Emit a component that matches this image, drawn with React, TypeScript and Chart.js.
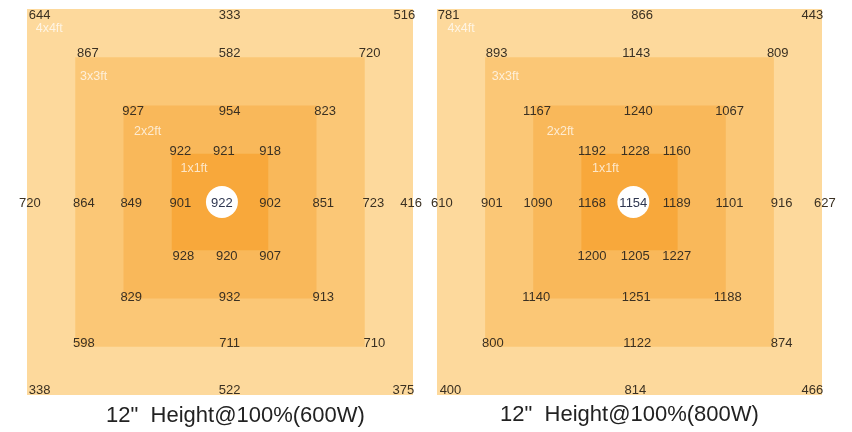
import React, { useEffect, useRef } from "react";
import { Chart, registerables } from "chart.js";

Chart.register(...registerables);

// ---- data ----
const zoneNames = ["4x4ft", "3x3ft", "2x2ft", "1x1ft"];
const zoneSizes = [4, 3, 2, 1]; // ft
const zoneColors = ["#FDD99C", "#FBC776", "#F9B85A", "#F8A83B"];

const title600 = "12\"  Height@100%(600W)";
const title800 = "12\"  Height@100%(800W)";

const values600 = [
  [644, 333, 516],
  [867, 582, 720],
  [927, 954, 823],
  [922, 921, 918],
  [720, 864, 849, 901, 922, 902, 851, 723, 416],
  [928, 920, 907],
  [829, 932, 913],
  [598, 711, 710],
  [338, 522, 375],
];

const values800 = [
  [781, 866, 443],
  [893, 1143, 809],
  [1167, 1240, 1067],
  [1192, 1228, 1160],
  [610, 901, 1090, 1168, 1154, 1189, 1101, 916, 627],
  [1200, 1205, 1227],
  [1140, 1251, 1188],
  [800, 1122, 874],
  [400, 814, 466],
];

// ---- measurement positions (ft from the lamp centre) ----
const rowY = [1.94, 1.55, 0.95, 0.53, 0, -0.55, -0.98, -1.46, -1.94];
const colX600 = [
  [-1.87, 0.1, 1.91],
  [-1.37, 0.1, 1.55],
  [-0.9, 0.1, 1.09],
  [-0.41, 0.04, 0.52],
  [-1.97, -1.41, -0.92, -0.41, 0.02, 0.52, 1.07, 1.59, 1.98],
  [-0.38, 0.07, 0.52],
  [-0.92, 0.1, 1.07],
  [-1.41, 0.1, 1.6],
  [-1.87, 0.1, 1.9],
];
const colX800 = [
  [-1.88, 0.13, 1.9],
  [-1.38, 0.07, 1.54],
  [-0.96, 0.09, 1.04],
  [-0.39, 0.06, 0.49],
  [-1.95, -1.43, -0.95, -0.39, 0.04, 0.49, 1.04, 1.58, 2.03],
  [-0.39, 0.06, 0.49],
  [-0.97, 0.07, 1.02],
  [-1.42, 0.08, 1.58],
  [-1.86, 0.06, 1.9],
];
const zoneLabelX600 = [-1.91, -1.45, -0.89, -0.41];
const zoneLabelX800 = [-1.89, -1.43, -0.86, -0.39];
const zoneLabelY = [1.8, 1.3, 0.73, 0.35];

function buildPoints(values: number[][], cols: number[][]) {
  const pts: { x: number; y: number; v: number; c: boolean }[] = [];
  values.forEach((row, r) =>
    row.forEach((v, i) => {
      const x = cols[r][i];
      const y = rowY[r];
      pts.push({ x, y, v, c: y === 0 && Math.abs(x) < 0.1 });
    })
  );
  return pts;
}

const panelPlugin = {
  id: "panel",
  beforeDatasetsDraw(chart: any, _a: any, opts: any) {
    const { ctx } = chart;
    const xs = chart.scales.x;
    const ys = chart.scales.y;
    ctx.save();
    zoneSizes.forEach((s, i) => {
      const h = s / 2;
      const l = xs.getPixelForValue(-h);
      const r = xs.getPixelForValue(h);
      const t = ys.getPixelForValue(h);
      const b = ys.getPixelForValue(-h);
      ctx.fillStyle = zoneColors[i];
      ctx.fillRect(l, t, r - l, b - t);
    });
    ctx.font = "12.5px 'Liberation Sans', Arial, sans-serif";
    ctx.fillStyle = "rgba(255,255,255,0.72)";
    ctx.textAlign = "left";
    ctx.textBaseline = "middle";
    zoneNames.forEach((n, i) => {
      ctx.fillText(
        n,
        xs.getPixelForValue(opts.zoneLabelX[i]),
        ys.getPixelForValue(zoneLabelY[i])
      );
    });
    ctx.restore();
  },
  afterDatasetsDraw(chart: any) {
    const { ctx } = chart;
    ctx.save();
    ctx.font = "13px 'Liberation Sans', Arial, sans-serif";
    ctx.textAlign = "center";
    ctx.textBaseline = "middle";
    chart.data.datasets.forEach((ds: any, di: number) => {
      const meta = chart.getDatasetMeta(di);
      meta.data.forEach((el: any, i: number) => {
        const raw = ds.data[i];
        ctx.fillStyle = raw.c ? "#2E3650" : "#3A3022";
        ctx.fillText(String(raw.v), el.x, el.y + 1);
      });
    });
    ctx.restore();
  },
  afterDraw(chart: any, _a: any, opts: any) {
    const { ctx } = chart;
    const xs = chart.scales.x;
    ctx.save();
    ctx.font = "22px 'Liberation Sans', Arial, sans-serif";
    ctx.fillStyle = "#222";
    ctx.textAlign = "center";
    ctx.textBaseline = "middle";
    ctx.fillText(opts.title, xs.getPixelForValue(opts.titleX), chart.chartArea.bottom + opts.titleDy);
    ctx.restore();
  },
};

function Panel(props: {
  values: number[][];
  cols: number[][];
  title: string;
  zoneLabelX: number[];
  padLeft: number;
  padRight: number;
  titleX: number;
  titleDy: number;
}) {
  const ref = useRef<HTMLCanvasElement>(null);
  useEffect(() => {
    const chart = new Chart(ref.current as HTMLCanvasElement, {
      type: "scatter",
      data: {
        datasets: [
          {
            data: buildPoints(props.values, props.cols) as any,
            pointRadius: (c: any) => (c.raw && c.raw.c ? 16 : 0),
            pointBackgroundColor: "#FFFFFF",
            pointBorderWidth: 0,
            pointHoverRadius: 0,
            clip: false as any,
          },
        ],
      },
      options: {
        animation: false,
        responsive: false,
        events: [],
        layout: {
          autoPadding: false,
          padding: { left: props.padLeft, right: props.padRight, top: 9, bottom: 37 },
        },
        scales: {
          x: { type: "linear", min: -2, max: 2, display: false },
          y: { type: "linear", min: -2, max: 2, display: false },
        },
        plugins: {
          legend: { display: false },
          tooltip: { enabled: false },
          panel: {
            title: props.title,
            titleX: props.titleX,
            titleDy: props.titleDy,
            zoneLabelX: props.zoneLabelX,
          },
        } as any,
      },
      plugins: [panelPlugin],
    });
    return () => chart.destroy();
  }, []);
  return <canvas ref={ref} width={426} height={432} style={{ display: "block" }} />;
}

export default function App() {
  return (
    <div
      style={{
        position: "absolute",
        left: 0,
        top: 0,
        width: 852,
        height: 432,
        display: "flex",
        background: "#fff",
      }}
    >
      <Panel
        values={values600}
        cols={colX600}
        title={title600}
        zoneLabelX={zoneLabelX600}
        padLeft={27}
        padRight={13}
        titleX={0.16}
        titleDy={21}
      />
      <Panel
        values={values800}
        cols={colX800}
        title={title800}
        zoneLabelX={zoneLabelX800}
        padLeft={11}
        padRight={30}
        titleX={0}
        titleDy={20}
      />
    </div>
  );
}
